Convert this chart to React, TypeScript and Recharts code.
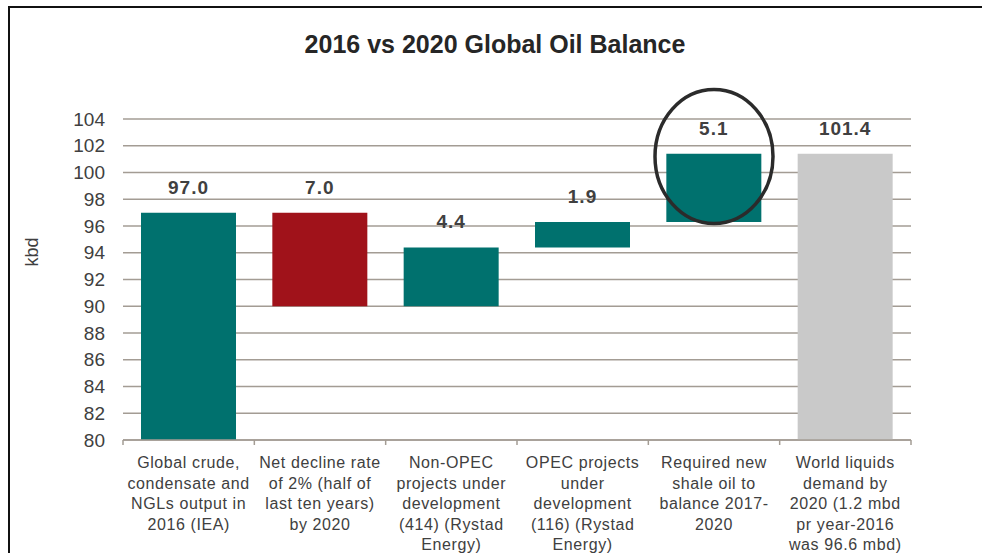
import { Bar, BarChart, CartesianGrid, Cell, LabelList, ReferenceDot, XAxis, YAxis } from 'recharts';

const categories = [
  'Global crude,\ncondensate and\nNGLs output in\n2016 (IEA)',
  'Net decline rate\nof 2% (half of\nlast ten years)\nby 2020',
  'Non-OPEC\nprojects under\ndevelopment\n(414) (Rystad\nEnergy)',
  'OPEC projects\nunder\ndevelopment\n(116) (Rystad\nEnergy)',
  'Required new\nshale oil to\nbalance 2017-\n2020',
  'World liquids\ndemand by\n2020 (1.2 mbd\npr year-2016\nwas 96.6 mbd)',
];
const changes = [97.0, 7.0, 4.4, 1.9, 5.1, 101.4];
const barLows = [80, 90, 90, 94.4, 96.3, 80];
const barHighs = [97.0, 97.0, 94.4, 96.3, 101.4, 101.4];
const barColors = ['#00716e', '#a0121a', '#00716e', '#00716e', '#00716e', '#c9c9c9'];
const yTicks = [80, 82, 84, 86, 88, 90, 92, 94, 96, 98, 100, 102, 104];
const circledCategory = categories[4];
const circledValue = 101.2;

const data = categories.map((name, i) => ({
  name,
  range: [barLows[i], barHighs[i]],
  change: changes[i],
}));

const FONT = '"Liberation Sans", Arial, sans-serif';
const W = 982;
const H = 553;
const LEFT = 123;
const RIGHT = 71;
const BAND = (W - LEFT - RIGHT) / categories.length;
const GRID = '#a39c94';
const TEXT = '#404040';

function CategoryTick(props: any) {
  const { x, y, payload, index } = props;
  const lines = String(payload.value).split('\n');
  return (
    <g>
      <line x1={x - BAND / 2} x2={x - BAND / 2} y1={y} y2={y + 5} stroke={GRID} strokeWidth={1.5} />
      {index === categories.length - 1 && (
        <line x1={x + BAND / 2} x2={x + BAND / 2} y1={y} y2={y + 5} stroke={GRID} strokeWidth={1.5} />
      )}
      <text x={x} y={y + 28} textAnchor="middle" fill={TEXT} fontSize={16} fontFamily={FONT} letterSpacing={0.6}>
        {lines.map((line, i) => (
          <tspan key={i} x={x} dy={i === 0 ? 0 : 20.5}>{line}</tspan>
        ))}
      </text>
    </g>
  );
}

function Ellipse(props: any) {
  const { cx, cy } = props;
  return <ellipse cx={cx} cy={cy} rx={59} ry={67} fill="none" stroke="#2b2b2b" strokeWidth={3.5} />;
}

export default function App() {
  return (
    <div style={{ position: 'fixed', left: 0, top: 0, width: W, height: H, overflow: 'hidden', background: '#fff', fontFamily: FONT }}>
      <div style={{ position: 'absolute', left: 8, top: 6, right: -10, bottom: -10, borderTop: '2px solid #111', borderLeft: '2px solid #111' }} />
      <div style={{ position: 'absolute', left: 0, width: 990, top: 29, textAlign: 'center', fontSize: 25, fontWeight: 'bold', color: '#262626', lineHeight: '30px' }}>
        2016 vs 2020 Global Oil Balance
      </div>
      <div style={{ position: 'absolute', left: 32, top: 252, transform: 'translate(-50%, -50%) rotate(-90deg)', fontSize: 18, color: TEXT, whiteSpace: 'nowrap' }}>
        kbd
      </div>
      <div style={{ position: 'absolute', left: 0, top: 0 }}>
        <BarChart width={W} height={H} data={data} margin={{ top: 119, right: RIGHT, bottom: 0, left: 0 }} barSize={95}>
          <CartesianGrid horizontal vertical={false} stroke={GRID} strokeWidth={1.5} />
          <XAxis
            dataKey="name"
            height={113}
            interval={0}
            tickLine={false}
            tickSize={0}
            tickMargin={0}
            axisLine={{ stroke: GRID, strokeWidth: 1.5 }}
            tick={<CategoryTick />}
          />
          <YAxis
            width={LEFT}
            domain={[80, 104]}
            ticks={yTicks}
            interval={0}
            allowDataOverflow
            axisLine={false}
            tickLine={false}
            tickSize={0}
            tickMargin={18}
            tick={{ fill: TEXT, fontSize: 19, fontFamily: FONT }}
          />
          <Bar dataKey="range" isAnimationActive={false}>
            {data.map((_, i) => (
              <Cell key={i} fill={barColors[i]} />
            ))}
            <LabelList
              dataKey="change"
              position="top"
              offset={19}
              formatter={(v: any) => Number(v).toFixed(1)}
              style={{ fill: TEXT, fontSize: 19, fontWeight: 'bold', fontFamily: FONT, letterSpacing: 1 }}
            />
          </Bar>
          <ReferenceDot x={circledCategory} y={circledValue} ifOverflow="visible" shape={<Ellipse />} />
        </BarChart>
      </div>
    </div>
  );
}
